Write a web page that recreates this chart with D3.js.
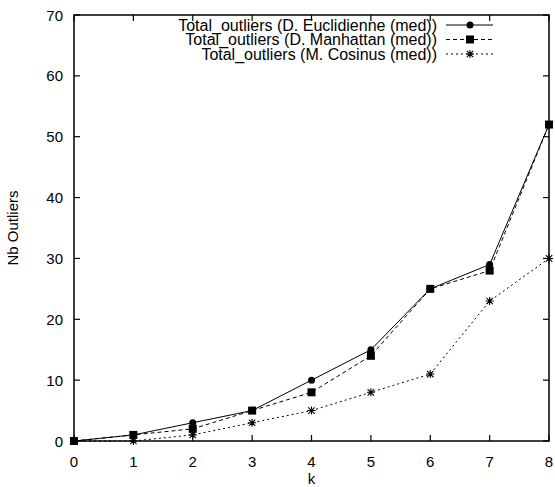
<!DOCTYPE html>
<html><head><meta charset="utf-8">
<script src="https://cdn.jsdelivr.net/npm/d3@7"></script>
<style>body{margin:0;background:#fff}svg{display:block}text{font-family:"Liberation Sans",Arial,sans-serif;fill:#000}</style>
</head><body><svg id="c" width="555" height="487"></svg>
<script>
const kValues = [0,1,2,3,4,5,6,7,8];
const euclid = [0,1,3,5,10,15,25,29,52];
const manhattan = [0,1,2,5,8,14,25,28,52];
const cosinus = [0,0,1,3,5,8,11,23,30];
const seriesNames = ["Total_outliers (D. Euclidienne (med))","Total_outliers (D. Manhattan (med))","Total_outliers (M. Cosinus (med))"];
const xTicks = [0,1,2,3,4,5,6,7,8];
const yTicks = [0,10,20,30,40,50,60,70];

const svg = d3.select("#c");
const L=74,R=549,T=15,B=441;
const x = d3.scaleLinear().domain([0,8]).range([L,R]);
const y = d3.scaleLinear().domain([0,70]).range([B,T]);
const fs = 15;

svg.append("rect").attr("x",L).attr("y",T).attr("width",R-L).attr("height",B-T).attr("fill","none").attr("stroke","#000").attr("stroke-width",1.5);

const tl=6;
const g=svg.append("g").attr("stroke","#000").attr("stroke-width",1.2);
xTicks.forEach(t=>{
  g.append("line").attr("x1",x(t)).attr("x2",x(t)).attr("y1",B).attr("y2",B-tl);
  g.append("line").attr("x1",x(t)).attr("x2",x(t)).attr("y1",T).attr("y2",T+tl);
});
yTicks.forEach(t=>{
  g.append("line").attr("x1",L).attr("x2",L+tl).attr("y1",y(t)).attr("y2",y(t));
  g.append("line").attr("x1",R).attr("x2",R-tl).attr("y1",y(t)).attr("y2",y(t));
});
svg.selectAll(".xl").data(xTicks).enter().append("text").attr("x",d=>x(d)).attr("y",B+26).attr("text-anchor","middle").attr("font-size",fs).text(d=>d);
svg.selectAll(".yl").data(yTicks).enter().append("text").attr("x",L-11).attr("y",d=>y(d)+5.5).attr("text-anchor","end").attr("font-size",fs).text(d=>d);

svg.append("text").attr("x",(L+R)/2).attr("y",484).attr("text-anchor","middle").attr("font-size",fs).text("k");
svg.append("text").attr("transform","translate(18,"+((T+B)/2)+") rotate(-90)").attr("text-anchor","middle").attr("font-size",fs).text("Nb Outliers");

const series=[
 {vals:euclid,dash:null,mk:"circle"},
 {vals:manhattan,dash:"4,3",mk:"square"},
 {vals:cosinus,dash:"2,3",mk:"star"}
];
const line=d3.line().x((d,i)=>x(kValues[i])).y(d=>y(d));
function marker(sel,type,cx,cy){
  if(type==="circle") sel.append("circle").attr("cx",cx).attr("cy",cy).attr("r",3.5).attr("fill","#000");
  else if(type==="square") sel.append("rect").attr("x",cx-4).attr("y",cy-4).attr("width",8).attr("height",8).attr("fill","#000");
  else {
    const s=4;
    const p=d3.path();
    p.moveTo(cx-s,cy);p.lineTo(cx+s,cy);
    p.moveTo(cx,cy-s);p.lineTo(cx,cy+s);
    p.moveTo(cx-s*0.8,cy-s*0.8);p.lineTo(cx+s*0.8,cy+s*0.8);
    p.moveTo(cx-s*0.8,cy+s*0.8);p.lineTo(cx+s*0.8,cy-s*0.8);
    sel.append("path").attr("d",p.toString()).attr("stroke","#000").attr("stroke-width",1.1).attr("fill","none");
  }
}
series.forEach(s=>{
  svg.append("path").attr("d",line(s.vals)).attr("fill","none").attr("stroke","#000").attr("stroke-width",1).attr("stroke-dasharray",s.dash);
  s.vals.forEach((v,i)=>marker(svg,s.mk,x(kValues[i]),y(v)));
});
const legY=[25,39.5,54];
series.forEach((s,i)=>{
  svg.append("text").attr("x",437).attr("y",legY[i]+5.5).attr("text-anchor","end").attr("font-size",16).text(seriesNames[i]);
  svg.append("line").attr("x1",446).attr("x2",493).attr("y1",legY[i]).attr("y2",legY[i]).attr("stroke","#000").attr("stroke-width",1).attr("stroke-dasharray",s.dash);
  marker(svg,s.mk,470,legY[i]);
});
</script></body></html>
